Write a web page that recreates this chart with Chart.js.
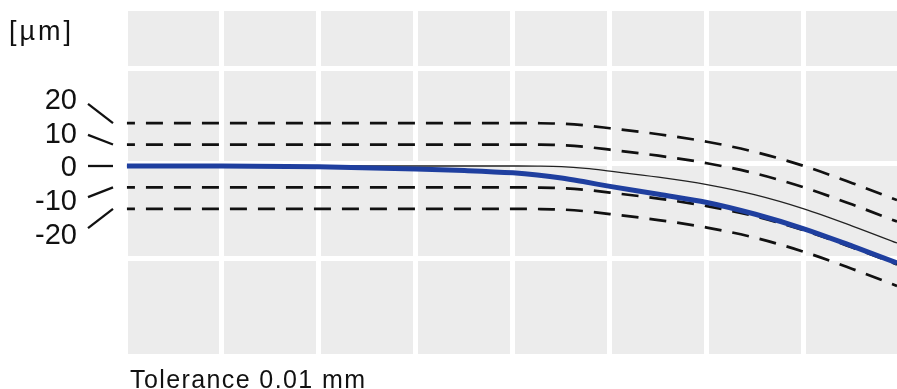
<!DOCTYPE html>
<html>
<head>
<meta charset="utf-8">
<script src="https://cdn.jsdelivr.net/npm/chart.js@4/dist/chart.umd.min.js"></script>
<style>
  html, body { margin: 0; padding: 0; background: #fff; }
  #wrap { width: 897px; height: 389px; }
</style>
</head>
<body>
<div id="wrap"><canvas id="chart" width="897" height="389"></canvas></div>
<script>
// 1. 데이터
const xPos = [0.02, 1, 2, 3, 3.5, 4, 4.25, 4.5, 4.75, 5, 5.5, 6, 6.5, 7, 7.5, 7.96];
const measured = [0, 0, -0.4, -1.4, -2.1, -3.2, -4.2, -5.6, -7.5, -9.5, -13.2, -17.0, -22.5, -29.3, -37.4, -45.2];
const nominal = [0, 0, 0, 0, 0, 0, -0.05, -0.3, -1.1, -2.4, -5.2, -8.7, -13.5, -20.0, -28.0, -35.9];
const upper20 = [20, 20, 20, 20, 20, 20, 19.95, 19.7, 18.9, 17.6, 14.8, 11.3, 6.5, 0, -8.0, -15.9];
const upper10 = [10, 10, 10, 10, 10, 10, 9.95, 9.7, 8.9, 7.6, 4.8, 1.3, -3.5, -10.0, -18.0, -25.9];
const lower10 = [-10, -10, -10, -10, -10, -10, -10.05, -10.3, -11.1, -12.4, -15.2, -18.7, -23.5, -30.0, -38.0, -45.9];
const lower20 = [-20, -20, -20, -20, -20, -20, -20.05, -20.3, -21.1, -22.4, -25.2, -28.7, -33.5, -40.0, -48.0, -55.9];
const yTicks = [20, 10, 0, -10, -20];
const xGrid = [0, 1, 2, 3, 4, 5, 6, 7];
const rowGrid = [1, 2, 3];
const unitLabel = '[µm]';
const footLabel = 'Tolerance 0.01 mm';

const FONT = '"Liberation Sans", Arial, sans-serif';

function toPoints(arr) {
    return arr.map((v, i) => ({ x: xPos[i], y: v }));
}

function dashed(arr) {
    return {
        data: toPoints(arr),
        borderColor: '#111',
        borderWidth: 2.7,
        borderDash: [17, 11],
        borderDashOffset: 9,
        pointRadius: 0,
        cubicInterpolationMode: 'monotone',
        order: 3
    };
}

// 축 자체는 공간을 차지하지 않게
const noSpace = s => {
    if (s.isHorizontal()) s.height = 0;
    else s.width = 0;
};

// 2. 배경 + 라벨 플러그인
const backgroundPlugin = {
    id: 'greyBack',
    beforeDraw(chart) {
        const { ctx, chartArea: a } = chart;
        ctx.save();
        ctx.fillStyle = '#ececec';
        ctx.fillRect(a.left, a.top, a.right - a.left, a.bottom - a.top);
        ctx.restore();
    }
};

const labelPlugin = {
    id: 'sideLabels',
    afterDraw(chart) {
        const ctx = chart.ctx;
        const y = chart.scales.y;
        const zero = y.getPixelForValue(0);
        ctx.save();
        ctx.fillStyle = '#111';
        ctx.strokeStyle = '#111';
        ctx.lineWidth = 2.3;

        // 값 라벨 + 연결선
        ctx.font = '29px ' + FONT;
        ctx.textAlign = 'right';
        ctx.textBaseline = 'alphabetic';
        yTicks.forEach(v => {
            const py = y.getPixelForValue(v);
            const labelY = zero + (py - zero) * 1.57;
            const startY = zero + (py - zero) * 1.45;
            ctx.fillText(String(v), 77, labelY + 10.5);
            ctx.beginPath();
            ctx.moveTo(88, startY);
            ctx.lineTo(113, py);
            ctx.stroke();
        });

        // 단위
        ctx.textAlign = 'left';
        ctx.font = '27px ' + FONT;
        ctx.letterSpacing = '3px';
        ctx.fillText(unitLabel, 9, 40);

        // 하단 문구
        ctx.font = '25px ' + FONT;
        ctx.letterSpacing = '1.4px';
        ctx.fillText(footLabel, 130, 388);
        ctx.restore();
    }
};

// 3. 차트
new Chart(document.getElementById('chart'), {
    type: 'line',
    data: {
        datasets: [
            {
                data: toPoints(measured),
                borderColor: '#1f3f9f',
                borderWidth: 5,
                pointRadius: 0,
                cubicInterpolationMode: 'monotone',
                order: 1
            },
            {
                data: toPoints(nominal),
                borderColor: '#222',
                borderWidth: 1.3,
                pointRadius: 0,
                cubicInterpolationMode: 'monotone',
                order: 2
            },
            dashed(upper20),
            dashed(upper10),
            dashed(lower10),
            dashed(lower20)
        ]
    },
    options: {
        responsive: false,
        animation: false,
        layout: { padding: { left: 125, top: 11, right: 0, bottom: 35 } },
        plugins: { legend: { display: false }, tooltip: { enabled: false } },
        scales: {
            x: {
                type: 'linear',
                min: 0,
                max: 7.96,
                afterBuildTicks: s => { s.ticks = xGrid.map(v => ({ value: v })); },
                afterFit: noSpace,
                ticks: { display: false },
                border: { display: false },
                grid: { color: '#fff', lineWidth: 5, drawTicks: false }
            },
            y: {
                min: -87.65,
                max: 72.26,
                afterFit: noSpace,
                ticks: { display: false },
                border: { display: false },
                grid: { display: false }
            },
            rows: {
                position: 'left',
                min: 0,
                max: 3.61,
                afterBuildTicks: s => { s.ticks = rowGrid.map(v => ({ value: v })); },
                afterFit: noSpace,
                ticks: { display: false },
                border: { display: false },
                grid: { color: '#fff', lineWidth: 5, drawTicks: false }
            }
        }
    },
    plugins: [backgroundPlugin, labelPlugin]
});
</script>
</body>
</html>
